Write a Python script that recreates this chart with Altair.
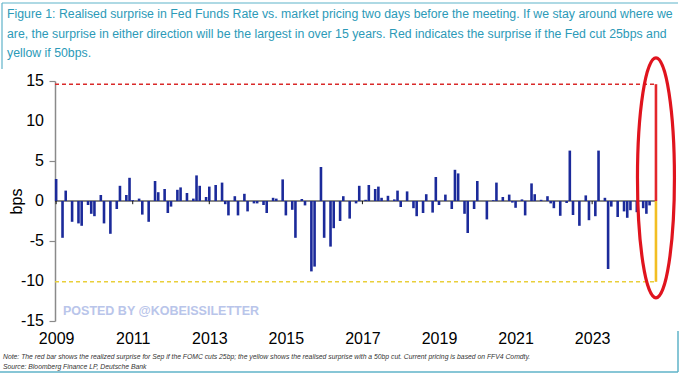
import altair as alt
import pandas as pd

# ---------------- data ----------------
meeting_months = [
    "2009-01", "2009-03", "2009-04", "2009-06", "2009-08", "2009-09", "2009-11", "2009-12",
    "2010-01", "2010-03", "2010-04", "2010-06", "2010-08", "2010-09", "2010-11", "2010-12",
    "2011-01", "2011-03", "2011-04", "2011-06", "2011-08", "2011-09", "2011-11", "2011-12",
    "2012-01", "2012-03", "2012-04", "2012-06", "2012-08", "2012-09", "2012-10", "2012-12",
    "2013-01", "2013-03", "2013-05", "2013-06", "2013-07", "2013-09", "2013-10", "2013-12",
    "2014-01", "2014-03", "2014-04", "2014-06", "2014-07", "2014-09", "2014-10", "2014-12",
    "2015-01", "2015-03", "2015-04", "2015-06", "2015-07", "2015-09", "2015-10", "2015-12",
    "2016-01", "2016-03", "2016-04", "2016-06", "2016-07", "2016-09", "2016-11", "2016-12",
    "2017-02", "2017-03", "2017-05", "2017-06", "2017-07", "2017-09", "2017-11", "2017-12",
    "2018-01", "2018-03", "2018-05", "2018-06", "2018-08", "2018-09", "2018-11", "2018-12",
    "2019-01", "2019-03", "2019-05", "2019-06", "2019-07", "2019-09", "2019-10", "2019-12",
    "2020-01", "2020-04", "2020-06", "2020-07", "2020-09", "2020-11", "2020-12",
    "2021-01", "2021-03", "2021-04", "2021-06", "2021-07", "2021-09", "2021-11", "2021-12",
    "2022-01", "2022-03", "2022-05", "2022-06", "2022-07", "2022-09", "2022-11", "2022-12",
    "2023-02", "2023-03", "2023-05", "2023-06", "2023-07", "2023-09", "2023-11", "2023-12",
    "2024-01", "2024-03", "2024-05", "2024-06", "2024-07",
]
surprise_bps = [
    2.75, -4.6, 1.3, -2.6, -2.8, -3.1, -0.5, -1.6,
    -1.9, 0.75, -2.8, -4.1, -1.0, 1.9, 0.75, 2.9,
    0.1, 0.3, -1.7, -2.6, 2.5, 1.1, 1.5, -1.5,
    -0.7, 1.4, 1.7, 1.0, 0.3, 3.2, 1.9, 0.5,
    1.8, 2.0, 2.3, -0.4, -1.8, 0.6, -1.8, 0.9,
    -1.3, -0.3, -0.3, -0.5, -1.5, 0.4, 0.3, 2.7,
    -1.8, -1.1, -4.6, 0.25, -0.55, -8.8, -8.2, 4.25,
    -4.6, -5.7, -3.4, -2.5, 0.6, -2.2, -0.3, 1.9,
    0.15, 2.0, 1.5, 1.8, 0.4, 0.65, 0.2, 1.3,
    -0.75, 1.2, -0.9, -1.9, -1.5, 0.85, -1.45, 3.0,
    -0.5, 0.8, -1.0, 3.9, 3.45, -1.6, -4.0, -1.0,
    2.5, -2.3, 0.1, 2.3, 0.5, 0.8, -0.2,
    -0.85, 0.2, -1.8, 2.2, 0.85, 0.15, 0.6, -0.3,
    -0.9, -1.85, -0.25, 6.3, -1.75, -3.1, 0.7, -2.4,
    -1.9, 6.3, 0.4, -8.5, -0.7, -2.0, -1.3, -2.1,
    -1.15, -1.4, -0.9, -1.6, -0.55,
]

scenario_month = "2024-09"
scenario_names = ["25bp cut", "50bp cut"]
scenario_bps = [14.6, -10.1]
scenario_colors = ["#E3262B", "#F2BE22"]
scenario_line_colors = ["#D92A2A", "#E9CF3A"]

highlight_center_bps = 2.9

x_domain = [2008.97, 2024.72]
year_ticks = [2009, 2011, 2013, 2015, 2017, 2019, 2021, 2023]
y_ticks = [-15, -10, -5, 0, 5, 10, 15]

title_text = (
    "Figure 1: Realised surprise in Fed Funds Rate vs. market pricing two days before the meeting. If we stay around where we\n"
    "are, the surprise in either direction will be the largest in over 15 years. Red indicates the surprise if the Fed cut 25bps and\n"
    "yellow if 50bps."
)
note_text = (
    "Note: The red bar shows the realized surprise for Sep if the FOMC cuts 25bp; the yellow shows the realised surprise with a 50bp cut. Current pricing is based on FFV4 Comdty.\n"
    "Source: Bloomberg Finance LP, Deutsche Bank"
)
watermark_text = "POSTED BY @KOBEISSILETTER"


def month_to_year(s):
    y, m = s.split("-")
    return int(y) + (int(m) - 1) / 12.0


bars = pd.DataFrame({
    "t": [month_to_year(s) for s in meeting_months],
    "v": surprise_bps,
})
scen = pd.DataFrame({
    "t": [month_to_year(scenario_month)] * 2,
    "v": scenario_bps,
    "name": scenario_names,
    "color": scenario_colors,
    "lcolor": scenario_line_colors,
    "start": [x_domain[0]] * 2,
})
ticks_df = pd.DataFrame({"t": year_ticks})
ylab_df = pd.DataFrame({"v": y_ticks, "label": [str(v) for v in y_ticks]})
ell_df = pd.DataFrame({"t": [month_to_year(scenario_month)], "v": [highlight_center_bps]})
one = pd.DataFrame({"k": [0]})

NAVY = "#1B2A9A"
FONT = "Liberation Sans"

xs = alt.Scale(domain=x_domain, nice=False, zero=False)
ys = alt.Scale(domain=[-15, 15], nice=False)

x_axis = alt.Axis(values=year_ticks, format="d", title=None, domain=False, ticks=False,
                  labelFontSize=16, labelPadding=9, labelColor="#000", labelFont=FONT, grid=False,
                  labelFlush=False, labelOverlap=False)
y_axis = alt.Axis(values=y_ticks, title="bps", titleFontSize=16, titleFontWeight="normal",
                  titleColor="#000", titleFont=FONT, titleX=-39, titleY=120, titleAngle=270,
                  titleAlign="center", titleBaseline="middle",
                  labels=False,
                  domainColor="#8a8a8a", domainWidth=1.5, tickColor="#8a8a8a", tickSize=6,
                  tickWidth=1.2, grid=False)

X = lambda f: alt.X(f, scale=xs, axis=x_axis)
Y = lambda f: alt.Y(f, scale=ys, axis=y_axis)

base_bars = alt.Chart(bars).mark_rule(strokeWidth=2.6, color=NAVY).encode(
    x=X("t:Q"), y=Y("v:Q"), y2=alt.datum(0),
)

zero_line = alt.Chart(scen.head(1)).mark_rule(color="#111", strokeWidth=1).encode(
    x=X("start:Q"), x2="t:Q", y=alt.datum(0),
)

year_tick_marks = alt.Chart(ticks_df).mark_rule(color="#111", strokeWidth=1).encode(
    x=X("t:Q"), y=alt.datum(0), y2=alt.datum(-0.4),
)

dashed = alt.Chart(scen).mark_rule(strokeDash=[4, 3], strokeWidth=1.5).encode(
    x=X("start:Q"), x2="t:Q", y=Y("v:Q"),
    color=alt.Color("lcolor:N", scale=None),
)

scen_bars = alt.Chart(scen).mark_rule(strokeWidth=2.6).encode(
    x=X("t:Q"), y=Y("v:Q"), y2=alt.datum(0),
    color=alt.Color("color:N", scale=None),
)

ellipse_path = ("M0,-1C0.085,-1,0.154,-0.552,0.154,0C0.154,0.552,0.085,1,0,1"
                "C-0.085,1,-0.154,0.552,-0.154,0C-0.154,-0.552,-0.085,-1,0,-1Z")
ellipse = alt.Chart(ell_df).mark_point(shape=ellipse_path, size=57600, filled=False,
                                        stroke="#E0141E", strokeWidth=3.2, opacity=1).encode(
    x=X("t:Q"), y=Y("v:Q"),
)

y_labels = alt.Chart(ylab_df).mark_text(
    align="right", baseline="middle", font=FONT, fontSize=16, color="#000",
).encode(x=alt.value(-11), y=Y("v:Q"), text="label:N")

title_mark = alt.Chart(one).mark_text(
    text=title_text, lineBreak="\n", lineHeight=19.5, align="left", baseline="top",
    font=FONT, fontSize=12.3, color="#2C9AB8",
).encode(x=alt.value(-48), y=alt.value(-73))

note_mark = alt.Chart(one).mark_text(
    text=note_text, lineBreak="\n", lineHeight=10, align="left", baseline="middle",
    font=FONT, fontSize=6.8, fontStyle="italic", color="#333",
).encode(x=alt.value(-52), y=alt.value(276))

watermark = alt.Chart(one).mark_text(
    text=watermark_text, align="left", baseline="middle", font=FONT, fontSize=12.5,
    fontWeight="bold", color="#B9C5EA",
).encode(x=alt.value(8), y=alt.value(230))

frame_color = "#5FB3C9"
frame_top = alt.Chart(one).mark_rule(color=frame_color, strokeWidth=1.2).encode(
    x=alt.value(-53), x2=alt.value(623), y=alt.value(-78))
frame_left = alt.Chart(one).mark_rule(color=frame_color, strokeWidth=1.2).encode(
    x=alt.value(-53), y=alt.value(-78), y2=alt.value(-12))
frame_bottom = alt.Chart(one).mark_rule(color=frame_color, strokeWidth=1.5).encode(
    x=alt.value(-55), x2=alt.value(623), y=alt.value(291))
frame_right = alt.Chart(one).mark_rule(color=frame_color, strokeWidth=1.5).encode(
    x=alt.value(623), y=alt.value(250), y2=alt.value(291))

chart = alt.layer(
    frame_top, frame_left, frame_bottom, frame_right,
    dashed, zero_line, year_tick_marks, base_bars, scen_bars, ellipse,
    y_labels, title_mark, note_mark, watermark,
).properties(
    width=603, height=240,
    autosize=alt.AutoSizeParams(type="none"),
    padding={"left": 55, "top": 81, "right": 22, "bottom": 56},
    background="white",
).configure_view(stroke=None)

chart.save("out.html", embed_options={"renderer": "svg", "actions": False})
